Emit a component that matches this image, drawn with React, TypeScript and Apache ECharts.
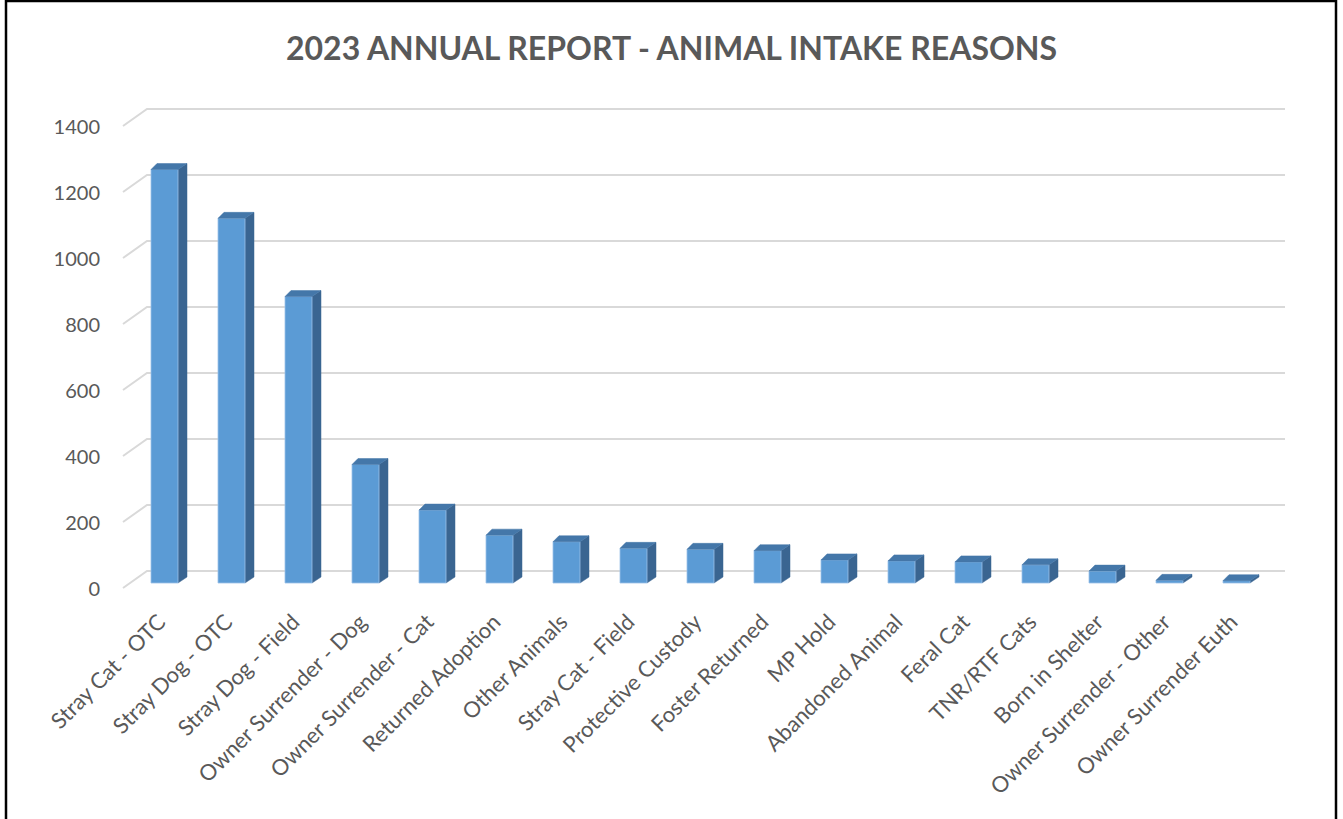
import React, { useEffect, useRef } from "react";
import * as echarts from "echarts";

const TITLE = "2023 ANNUAL REPORT - ANIMAL INTAKE REASONS";

const categories: string[] = [
  "Stray Cat - OTC",
  "Stray Dog - OTC",
  "Stray Dog - Field",
  "Owner Surrender - Dog",
  "Owner Surrender - Cat",
  "Returned Adoption",
  "Other Animals",
  "Stray Cat - Field",
  "Protective Custody",
  "Foster Returned",
  "MP Hold",
  "Abandoned Animal",
  "Feral Cat",
  "TNR/RTF Cats",
  "Born in Shelter",
  "Owner Surrender - Other",
  "Owner Surrender Euth",
];

const intakeCounts: number[] = [
  1253, 1105, 868, 359, 221, 145, 125, 105, 102, 98, 70, 67, 64, 55, 36, 8, 7,
];

const yTicks: number[] = [0, 200, 400, 600, 800, 1000, 1200, 1400];

const FRONT = "#5B9BD5";
const TOP = "#4477A9";
const SIDE = "#3A6591";
const GRID = "#D9D9D9";
const TEXT = "#595959";
const FONT = "Lato, 'Open Sans', sans-serif";

export default function App() {
  const ref = useRef<HTMLDivElement>(null);

  useEffect(() => {
    if (!ref.current) return;
    const chart = echarts.init(ref.current, undefined, { renderer: "svg" });

    const option: any = {
      animation: false,
      backgroundColor: "#ffffff",
      title: {
        text: TITLE,
        left: "center",
        top: 26,
        textStyle: {
          fontFamily: FONT,
          fontWeight: "bold",
          fontSize: 32,
          color: TEXT,
        },
      },
      grid: { left: 131, right: 73, top: 126, bottom: 231 },
      xAxis: {
        type: "category",
        data: categories,
        axisLine: { show: false },
        axisTick: { show: false },
        splitLine: { show: false },
        axisLabel: {
          interval: 0,
          rotate: 45,
          margin: 26,
          padding: [0, 5, 0, 0],
          fontFamily: FONT,
          fontSize: 22,
          color: TEXT,
        },
      },
      yAxis: {
        type: "value",
        min: 0,
        max: 1400,
        interval: 200,
        axisLine: { show: false },
        axisTick: { show: false },
        splitLine: { show: false },
        axisLabel: {
          margin: 31,
          fontFamily: FONT,
          fontSize: 20,
          color: TEXT,
          formatter: (v: number) => String(v),
        },
      },
      graphic: [
        {
          type: "rect",
          shape: { x: 6, y: 1, width: 1330, height: 840 },
          style: { fill: "none", stroke: "#000000", lineWidth: 2.5 },
          silent: true,
        },
      ],
      series: [
        {
          type: "custom",
          name: "grid",
          silent: true,
          z: 1,
          data: yTicks.map((v) => [0, v]),
          renderItem: (params: any, api: any) => {
            const cs = params.coordSys;
            const y = api.coord([0, api.value(1)])[1];
            return {
              type: "polyline",
              shape: {
                points: [
                  [cs.x - 8, y],
                  [cs.x + 16, y - 17],
                  [cs.x + cs.width + 15, y - 17],
                ],
              },
              style: { stroke: GRID, lineWidth: 2, fill: "none" },
            };
          },
        },
        {
          type: "custom",
          name: "Intake",
          z: 2,
          data: intakeCounts.map((v, i) => [i, v]),
          renderItem: (params: any, api: any) => {
            const i = api.value(0);
            const v = api.value(1);
            const base = api.coord([i, 0]);
            const top = api.coord([i, v]);
            const cx = base[0];
            const yb = base[1] - 5;
            const yt = top[1] - 5;
            const w = 27;
            const x0 = cx - w / 2;
            const x1 = cx + w / 2;
            return {
              type: "group",
              children: [
                {
                  type: "polygon",
                  shape: {
                    points: [
                      [x1, yt],
                      [x1 + 9, yt - 6],
                      [x1 + 9, yb - 6],
                      [x1, yb],
                    ],
                  },
                  style: { fill: SIDE, stroke: SIDE, lineWidth: 0.5 },
                },
                {
                  type: "rect",
                  shape: { x: x0, y: yt, width: w, height: Math.max(yb - yt, 0.5) },
                  style: { fill: FRONT, stroke: "#9CC2E8", lineWidth: 0.8 },
                },
                {
                  type: "polygon",
                  shape: {
                    points: [
                      [x0, yt],
                      [x1, yt],
                      [x1 + 9, yt - 6],
                      [x0 + 6, yt - 6],
                    ],
                  },
                  style: { fill: TOP, stroke: TOP, lineWidth: 0.5 },
                },
              ],
            };
          },
        },
      ],
    };

    chart.setOption(option);
    return () => chart.dispose();
  }, []);

  return (
    <div
      ref={ref}
      style={{
        position: "fixed",
        left: 0,
        top: 0,
        width: 1343,
        height: 819,
        background: "#ffffff",
      }}
    />
  );
}
